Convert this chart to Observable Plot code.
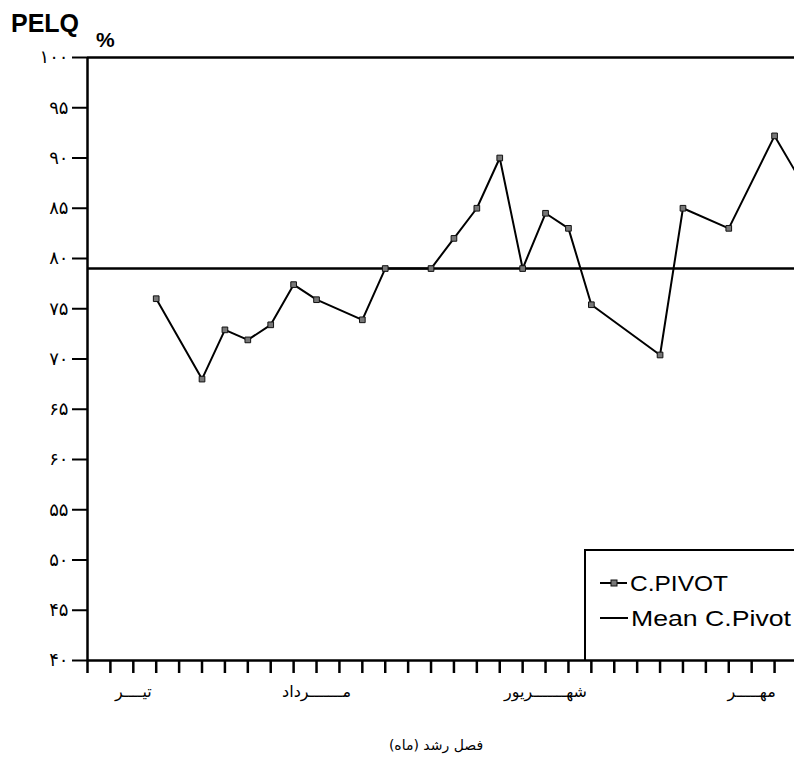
<!DOCTYPE html>
<html><head><meta charset="utf-8">
<script src="https://cdn.jsdelivr.net/npm/d3@7"></script>
<script src="https://cdn.jsdelivr.net/npm/@observablehq/plot@0.6"></script>
<style>body{margin:0;background:#fff;} #chart svg{display:block;}</style>
</head><body><div id="chart"></div>
<script>
// ---- data ----
const periods = [3,5,6,7,8,9,10,12,13,15,16,17,18,19,20,21,22,25,26,28,30,31];
const pivot   = [76,68,72.9,71.9,73.4,77.4,75.9,73.9,79,79,82,85,90,79,84.5,83,75.4,70.4,85,83,92.2,88.3];
const meanPivot = 79;
const monthNames = ["تیــــر","مـــــــرداد","شهـــــــریور","مهـــــر"];
const monthPos = [2,10,20,29];
const yTicks = [40,45,50,55,60,65,70,75,80,85,90,95,100];
const xTicks = d3.range(0,31);
const seriesLabel = "C.PIVOT";
const meanLabel = "Mean C.Pivot";
const yTitle = "PELQ";
const yUnit = "%";
const xTitle = "فصل رشد (ماه)";

const data = periods.map((p,i) => ({period: p, value: pivot[i]}));
const months = monthNames.map((n,i) => ({name: n, pos: monthPos[i]}));
const fa = d => String(d).replace(/\d/g, c => "۰۱۲۳۴۵۶۷۸۹"[c]);

const chart = Plot.plot({
  width: 794, height: 760,
  marginTop: 57, marginBottom: 100, marginLeft: 87, marginRight: 0,
  style: {background: "white", fontFamily: "DejaVu Sans", color: "black"},
  x: {domain: [0, 30.87]},
  y: {domain: [40, 100]},
  marks: [
    Plot.axisY(yTicks, {tickSize: 15, tickPadding: 4, tickFormat: fa, fontSize: 18, strokeWidth: 2, label: null}),
    Plot.axisX(xTicks, {tickSize: 13, tickFormat: () => "", strokeWidth: 2.5, label: null}),
    Plot.ruleY([40, 100], {strokeWidth: 2.5}),
    Plot.ruleX([0], {strokeWidth: 2.5}),
    Plot.ruleY([meanPivot], {strokeWidth: 2.5}),
    Plot.line(data, {x: "period", y: "value", stroke: "black", strokeWidth: 2, clip: true}),
    Plot.dot(data, {x: "period", y: "value", symbol: "square", r: 3.2, fill: "#777", stroke: "#111", strokeWidth: 1, clip: true}),
    Plot.text(months, {x: "pos", frameAnchor: "bottom", dy: 36, text: "name", fontSize: 16, fontFamily: "DejaVu Sans"})
  ]
});
document.getElementById("chart").appendChild(chart);

const svg = d3.select(chart);
const g = svg.append("g").attr("text-anchor", "start");
// titles
g.append("text").attr("x", 11).attr("y", 32).attr("font-family", "Liberation Sans").attr("font-weight", "bold")
  .attr("font-size", 25).attr("fill", "black").text(yTitle);
g.append("text").attr("x", 96).attr("y", 47).attr("font-family", "Liberation Sans").attr("font-weight", "bold")
  .attr("font-size", 21).attr("fill", "black").text(yUnit);
g.append("text").attr("x", 436).attr("y", 750).attr("text-anchor", "middle").attr("direction", "rtl")
  .attr("font-family", "DejaVu Sans").attr("font-size", 14).attr("fill", "black").text(xTitle);
// legend
g.append("path").attr("d", "M585,660V550H800").attr("fill", "none").attr("stroke", "black").attr("stroke-width", 2);
g.append("line").attr("x1", 600).attr("x2", 627).attr("y1", 583).attr("y2", 583).attr("stroke", "black").attr("stroke-width", 2);
g.append("rect").attr("x", 611).attr("y", 580).attr("width", 6).attr("height", 6).attr("fill", "#777").attr("stroke", "#111");
g.append("text").attr("x", 630).attr("y", 591).attr("font-family", "Liberation Sans").attr("font-size", 22)
  .attr("textLength", 98).attr("lengthAdjust", "spacingAndGlyphs").attr("fill", "black").text(seriesLabel);
g.append("line").attr("x1", 600).attr("x2", 628).attr("y1", 618).attr("y2", 618).attr("stroke", "black").attr("stroke-width", 2);
g.append("text").attr("x", 631).attr("y", 626).attr("font-family", "Liberation Sans").attr("font-size", 22)
  .attr("textLength", 160).attr("lengthAdjust", "spacingAndGlyphs").attr("fill", "black").text(meanLabel);
</script></body></html>
